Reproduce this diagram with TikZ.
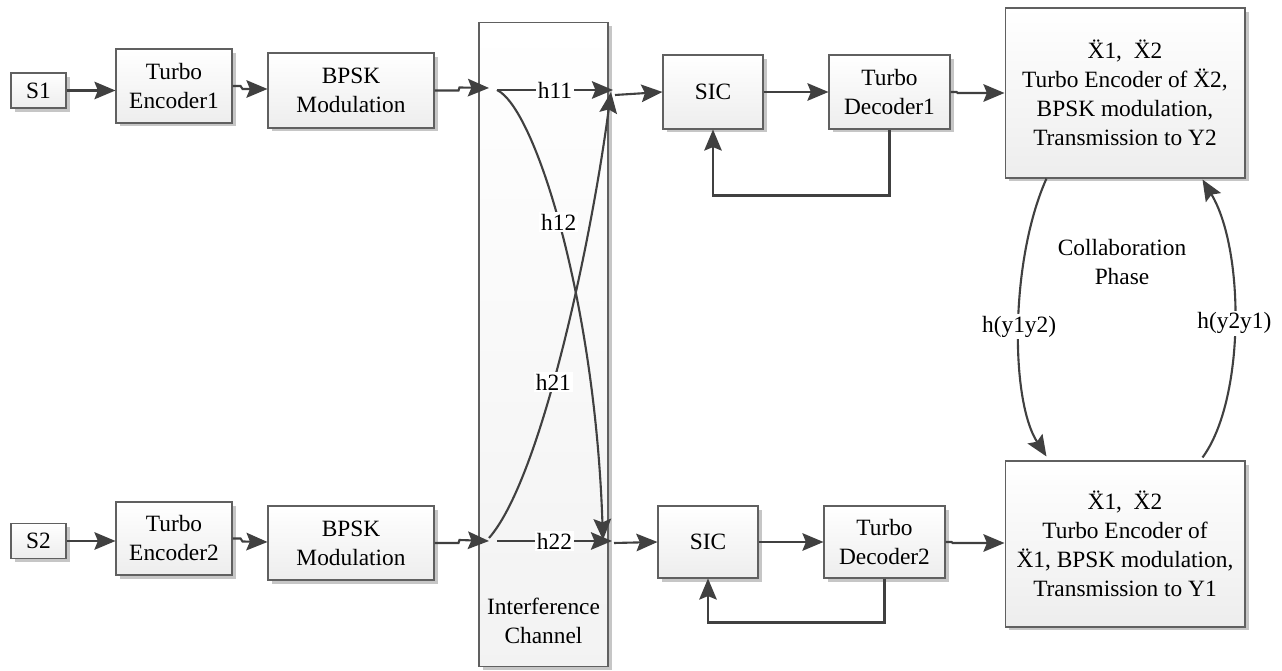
\documentclass[tikz,border=0pt]{standalone}
\usepackage{fontspec}
\setmainfont{Liberation Serif}
\newfontfamily\timesfont{Liberation Serif}
\usepackage{xcolor}
\usepackage{tikz}
\usetikzlibrary{shapes.geometric, arrows.meta, calc, shadows}
\definecolor{linegray}{HTML}{404040}
\newcommand{\boxfont}{\timesfont\fontsize{13.3}{16.5}\selectfont}
\tikzstyle{block} = [rectangle, draw=gray!75!black, line width=0.6pt, top color=white, bottom color=gray!14, text centered, align=center, inner sep=0pt, drop shadow={shadow xshift=2pt, shadow yshift=-2pt, fill=gray!45, opacity=1}, font=\boxfont]
\tikzstyle{arrow} = [line width=1.2pt, draw=linegray, -{Stealth[length=12pt, width=10pt, inset=2pt]}]
\tikzstyle{hlabel} = [fill=white, inner sep=1pt, font=\boxfont]

\begin{document}
\begin{tikzpicture}[x=0.02cm, y=-0.02cm]
        \useasboundingbox (0,0) rectangle (1282,671);
        % interference channel
        \node (chan) [block, top color=white, bottom color=gray!10, minimum width=2.58cm, minimum height=12.9cm] at (543.5,344.5) {};
        \node (chantext) [align=center, font=\boxfont] at (543.5,621) {Interference\\Channel};

        % first user
        \node (s1) [block, minimum width=1.1cm, minimum height=0.7cm] at (38.5,90.5) {S1};
        \node (enc1) [block, minimum width=2.32cm, minimum height=1.48cm] at (174,86) {Turbo\\Encoder1};
        \node (mod1) [block, minimum width=3.32cm, minimum height=1.5cm] at (351,90.5) {BPSK\\Modulation};
        \node (sic1) [block, minimum width=2cm, minimum height=1.48cm] at (713,92) {SIC};
        \node (dec1) [block, minimum width=2.42cm, minimum height=1.48cm] at (889.5,92) {Turbo\\Decoder1};
        \node (relay1) [block, minimum width=4.8cm, minimum height=3.4cm] at (1125,93) {\"X1,\ \ \"X2\\Turbo Encoder of \"X2,\\BPSK modulation,\\Transmission to Y2};

        % second user
        \node (s2) [block, minimum width=1.1cm, minimum height=0.7cm] at (38.5,541) {S2};
        \node (enc2) [block, minimum width=2.32cm, minimum height=1.46cm] at (174,538.5) {Turbo\\Encoder2};
        \node (mod2) [block, minimum width=3.32cm, minimum height=1.48cm] at (351,543) {BPSK\\Modulation};
        \node (sic2) [block, minimum width=2cm, minimum height=1.44cm] at (708,542) {SIC};
        \node (dec2) [block, minimum width=2.42cm, minimum height=1.44cm] at (884.5,542) {Turbo\\Decoder2};
        \node (relay2) [block, minimum width=4.8cm, minimum height=3.32cm] at (1125,544) {\"X1,\ \ \"X2\\Turbo Encoder of\\\"X1, BPSK modulation,\\Transmission to Y1};

        \node (collab) [align=center, font=\boxfont] at (1122,262) {Collaboration\\Phase};

        % channel ports
        \coordinate (in1) at (489,88);
        \coordinate (tx1) at (497,90);
        \coordinate (out1) at (613,90);
        \coordinate (in2) at (489,541);
        \coordinate (tx2) at (497,541);
        \coordinate (out2) at (612,541);

        \draw [arrow] (s1) -- (enc1.west |- s1);
        \draw [arrow] (enc1.east) -- ++(8,0) -- ++(2,3) -- (mod1.west |- 0,89);
        \draw [arrow] (mod1.east) -- ++(24,0) -- ++(1,-3) -- (in1);
        \draw [arrow] (tx1) -- node[hlabel] {h11} (out1);
        \draw [arrow] (tx1) .. controls (535,108) and (595,300) .. node[hlabel, pos=0.48] {h12} (603,540);
        \draw [arrow] (out1) ++(2,5) -- (sic1.west);
        \draw [arrow] (sic1.east) -- (dec1.west);
        \draw [arrow] (dec1.south) -- ++(0,66) -| (sic1.south);
        \draw [arrow] (dec1.east) -- ++(6,0) -- ++(1,1) -- (relay1.west |- 0,93);

        \draw [arrow] (s2) -- (enc2.west |- s2);
        \draw [arrow] (enc2.east) -- ++(8,0) -- ++(2,3) -- (mod2.west |- 0,542);
        \draw [arrow] (mod2.east) -- ++(24,0) -- ++(1,-3) -- (in2);
        \draw [arrow] (tx2) -- node[hlabel] {h22} (out2);
        \draw [arrow] (in2) ++(0,-3) .. controls (540,480) and (590,250) .. node[hlabel, pos=0.44] {h21} (611,92);
        \draw [arrow] (out2) ++(2,2) -- (sic2.west);
        \draw [arrow] (sic2.east) -- (dec2.west);
        \draw [arrow] (dec2.south) -- ++(0,44) -| (sic2.south);
        \draw [arrow] (dec2.east) -- ++(6,0) -- ++(1,1) -- (relay2.west |- 0,543);

        % collaboration phase
        \draw [arrow] ($(relay1.south west)+(42,0)$) .. controls (1010,260) and (1010,400) .. node[hlabel, pos=0.5] {h(y1y2)} ($(relay2.north west)+(42,-4)$);
        \draw [arrow] ($(relay2.north west)+(198,-3)$) .. controls (1245,400) and (1245,250) .. node[hlabel, pos=0.5] {h(y2y1)} ($(relay1.south west)+(198,1)$);
    \end{tikzpicture}
\end{document}
